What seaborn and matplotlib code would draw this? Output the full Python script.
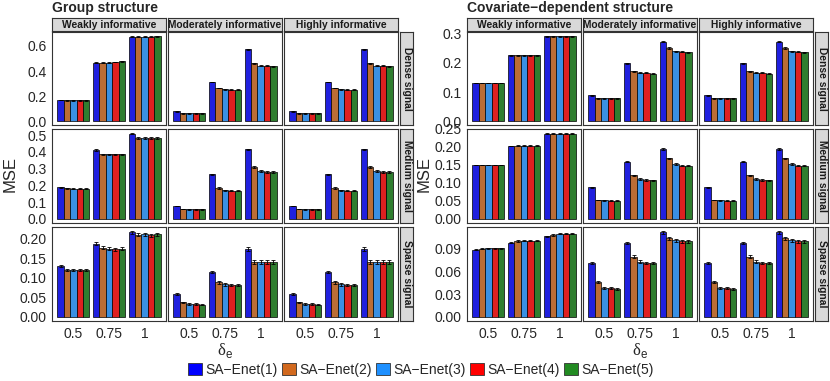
import numpy as np
import pandas as pd
import matplotlib
matplotlib.use("Agg")
import matplotlib.pyplot as plt
from matplotlib.patches import Patch
import seaborn as sns

#%% data: [info level][delta][method]
methods = ["SA\u2212Enet(1)", "SA\u2212Enet(2)", "SA\u2212Enet(3)", "SA\u2212Enet(4)", "SA\u2212Enet(5)"]
colors = ["#0000FF", "#D2691E", "#1E90FF", "#FF0000", "#228B22"]
deltas = ["0.5", "0.75", "1"]
info_levels = ["Weakly informative", "Moderately informative", "Highly informative"]
signals = ["Dense signal", "Medium signal", "Sparse signal"]
structures = ["Group structure", "Covariate\u2212dependent structure"]

grp_dense = [
    [[0.168, 0.167, 0.167, 0.167, 0.167], [0.466, 0.466, 0.468, 0.472, 0.476], [0.675, 0.674, 0.675, 0.675, 0.678]],
    [[0.078, 0.063, 0.062, 0.062, 0.062], [0.313, 0.265, 0.254, 0.252, 0.250], [0.573, 0.463, 0.442, 0.441, 0.439]],
    [[0.078, 0.063, 0.062, 0.062, 0.062], [0.313, 0.265, 0.254, 0.252, 0.250], [0.573, 0.463, 0.442, 0.441, 0.439]],
]
grp_medium = [
    [[0.188, 0.182, 0.180, 0.180, 0.180], [0.411, 0.386, 0.386, 0.386, 0.386], [0.510, 0.482, 0.482, 0.482, 0.482]],
    [[0.077, 0.058, 0.057, 0.056, 0.056], [0.266, 0.185, 0.170, 0.169, 0.168], [0.415, 0.309, 0.287, 0.281, 0.281]],
    [[0.077, 0.058, 0.057, 0.056, 0.056], [0.266, 0.185, 0.170, 0.169, 0.168], [0.415, 0.309, 0.287, 0.281, 0.281]],
]
grp_sparse = [
    [[0.130, 0.120, 0.121, 0.120, 0.120], [0.188, 0.178, 0.175, 0.174, 0.175], [0.217, 0.211, 0.212, 0.210, 0.212]],
    [[0.058, 0.037, 0.033, 0.032, 0.031], [0.115, 0.088, 0.083, 0.082, 0.082], [0.174, 0.140, 0.140, 0.140, 0.140]],
    [[0.058, 0.037, 0.033, 0.032, 0.031], [0.115, 0.088, 0.083, 0.082, 0.082], [0.174, 0.140, 0.140, 0.140, 0.140]],
]
cov_dense = [
    [[0.131, 0.131, 0.131, 0.131, 0.131], [0.226, 0.226, 0.226, 0.226, 0.226], [0.291, 0.291, 0.291, 0.291, 0.291]],
    [[0.089, 0.078, 0.078, 0.078, 0.078], [0.198, 0.171, 0.166, 0.166, 0.163], [0.272, 0.251, 0.240, 0.238, 0.236]],
    [[0.089, 0.078, 0.078, 0.078, 0.078], [0.198, 0.171, 0.166, 0.166, 0.163], [0.272, 0.251, 0.240, 0.238, 0.236]],
]
cov_medium = [
    [[0.149, 0.149, 0.149, 0.149, 0.149], [0.2015, 0.202, 0.202, 0.202, 0.202], [0.236, 0.236, 0.236, 0.236, 0.236]],
    [[0.087, 0.052, 0.051, 0.050, 0.050], [0.158, 0.120, 0.110, 0.107, 0.106], [0.193, 0.167, 0.152, 0.147, 0.147]],
    [[0.087, 0.052, 0.051, 0.050, 0.050], [0.158, 0.120, 0.110, 0.107, 0.106], [0.193, 0.167, 0.152, 0.147, 0.147]],
]
cov_sparse = [
    [[0.0885, 0.0898, 0.0907, 0.0907, 0.0907], [0.098, 0.1003, 0.1007, 0.1007, 0.1007], [0.1064, 0.108, 0.110, 0.110, 0.110]],
    [[0.071, 0.0455, 0.0385, 0.038, 0.0368], [0.0977, 0.0797, 0.0731, 0.071, 0.071], [0.112, 0.1038, 0.101, 0.100, 0.100]],
    [[0.071, 0.0455, 0.0385, 0.038, 0.0368], [0.0977, 0.0797, 0.0731, 0.071, 0.071], [0.112, 0.1038, 0.101, 0.100, 0.100]],
]

# standard errors: [info level][delta]
grp_dense_se = [[0.002, 0.003, 0.003], [0.002, 0.003, 0.004], [0.002, 0.003, 0.004]]
grp_medium_se = [[0.002, 0.004, 0.005], [0.002, 0.004, 0.005], [0.002, 0.004, 0.005]]
grp_sparse_se = [[0.003, 0.004, 0.004], [0.002, 0.003, 0.005], [0.002, 0.003, 0.005]]
cov_dense_se = [[0.001, 0.001, 0.002], [0.001, 0.002, 0.002], [0.001, 0.002, 0.002]]
cov_medium_se = [[0.001, 0.001, 0.002], [0.001, 0.002, 0.002], [0.001, 0.002, 0.002]]
cov_sparse_se = [[0.0006, 0.0008, 0.001], [0.0012, 0.0015, 0.0018], [0.0012, 0.0015, 0.0018]]

# y ticks per block row
grp_yticks = [[0, 0.2, 0.4, 0.6], [0, 0.1, 0.2, 0.3, 0.4, 0.5], [0, 0.05, 0.10, 0.15, 0.20]]
cov_yticks = [[0, 0.1, 0.2, 0.3], [0, 0.05, 0.10, 0.15, 0.20, 0.25], [0, 0.03, 0.06, 0.09]]
grp_fmt = ["{:.1f}", "{:.1f}", "{:.2f}"]
cov_fmt = ["{:.1f}", "{:.2f}", "{:.2f}"]

#%% style
sns.set_style("white")
plt.rcParams["font.family"] = ["Liberation Sans", "DejaVu Sans"]
plt.rcParams["mathtext.fontset"] = "custom"
plt.rcParams["mathtext.rm"] = "Liberation Serif"
plt.rcParams["mathtext.sf"] = "Liberation Sans"

W, H = 830, 381
fig = plt.figure(figsize=(W / 100, H / 100), dpi=100)


def px_axes(x0, y0, x1, y1):
    return fig.add_axes([x0 / W, 1 - y1 / H, (x1 - x0) / W, (y1 - y0) / H])


border = "#333333"
rows_px = [(31.5, 125.5), (128.5, 223), (226.5, 321)]
blocks = [
    dict(cols=[(52, 166), (168, 282), (284, 398)], strip=(400, 413), title_x=52, ylab_x=10,
         data=[grp_dense, grp_medium, grp_sparse], se=[grp_dense_se, grp_medium_se, grp_sparse_se],
         yticks=grp_yticks, fmt=grp_fmt),
    dict(cols=[(467, 581), (583, 697), (699, 813)], strip=(815, 828), title_x=467, ylab_x=424,
         data=[cov_dense, cov_medium, cov_sparse], se=[cov_dense_se, cov_medium_se, cov_sparse_se],
         yticks=cov_yticks, fmt=cov_fmt),
]

for b, blk in enumerate(blocks):
    fig.text(blk["title_x"] / W, 1 - 8 / H, structures[b], fontsize=10, fontweight="bold",
             ha="left", va="center")
    # top strips
    for c, (x0, x1) in enumerate(blk["cols"]):
        sax = px_axes(x0, 18, x1, 31)
        sax.set_facecolor("#D9D9D9")
        sax.set_xticks([]); sax.set_yticks([])
        for s in sax.spines.values():
            s.set_color(border); s.set_linewidth(0.8)
        sax.text(0.5, 0.48, info_levels[c], transform=sax.transAxes, ha="center", va="center",
                 fontsize=7.4, fontweight="bold", color="#1A1A1A")

    for r, (y0, y1) in enumerate(rows_px):
        means = blk["data"][r]
        ses = blk["se"][r]
        top = max(means[c][d][m] + ses[c][d] for c in range(3) for d in range(3) for m in range(5))
        # right strip
        sax = px_axes(blk["strip"][0], y0, blk["strip"][1], y1)
        sax.set_facecolor("#D9D9D9")
        sax.set_xticks([]); sax.set_yticks([])
        for s in sax.spines.values():
            s.set_color(border); s.set_linewidth(0.8)
        sax.text(0.5, 0.5, signals[r], transform=sax.transAxes, ha="center", va="center",
                 rotation=-90, fontsize=7.4, fontweight="bold", color="#1A1A1A")

        for c, (x0, x1) in enumerate(blk["cols"]):
            ax = px_axes(x0, y0, x1, y1)
            df = pd.DataFrame([(deltas[d], methods[m], means[c][d][m])
                               for d in range(3) for m in range(5)],
                              columns=["delta", "method", "mse"])
            sns.barplot(data=df, x="delta", y="mse", hue="method", order=deltas,
                        hue_order=methods, palette=colors, width=0.9, errorbar=None,
                        edgecolor="black", linewidth=0.5, legend=False, ax=ax)
            bar_conts = list(ax.containers)
            for cont in bar_conts:
                xs, ys, es = [], [], []
                for bar in cont.patches:
                    xc = bar.get_x() + bar.get_width() / 2
                    xs.append(xc)
                    ys.append(bar.get_height())
                    es.append(ses[c][int(round(xc))])
                ax.errorbar(xs, ys, yerr=es, fmt="none", ecolor="black", elinewidth=0.6,
                            capsize=1.3, capthick=0.6, zorder=5)
            ax.set_xlim(-0.6, 2.6)
            ax.set_ylim(-0.05 * top, 1.05 * top)
            ax.set_xlabel(""); ax.set_ylabel("")
            for s in ax.spines.values():
                s.set_color(border); s.set_linewidth(0.8)
            ax.tick_params(length=3, width=0.6, color=border, labelsize=10,
                           labelcolor="#262626", pad=1)
            ax.set_yticks(blk["yticks"][r])
            if c == 0:
                ax.set_yticklabels([blk["fmt"][r].format(t) for t in blk["yticks"][r]])
            else:
                ax.tick_params(axis="y", left=False, labelleft=False)
            if r == 2:
                ax.set_xticks(range(3))
                ax.set_xticklabels(deltas)
            else:
                ax.tick_params(axis="x", bottom=False, labelbottom=False)

    xs_mid = (blk["cols"][0][0] + blk["cols"][2][1]) / 2
    fig.text(xs_mid / W, 1 - 351 / H, r"$\mathrm{\delta}_{\mathsf{e}}$", fontsize=12,
             ha="center", va="center")
    fig.text(blk["ylab_x"] / W, 1 - 174 / H, "MSE", fontsize=12, rotation=90,
             ha="center", va="center")

handles = [Patch(facecolor=col, edgecolor="#333333", linewidth=0.6) for col in colors]
fig.legend(handles, methods, loc="center", bbox_to_anchor=(421 / W, 1 - 370 / H), ncol=5,
           frameon=False, fontsize=10, handlelength=1.0, handleheight=1.0,
           handletextpad=0.25, columnspacing=0.3, borderpad=0)

fig.savefig("out.png", dpi=100)
